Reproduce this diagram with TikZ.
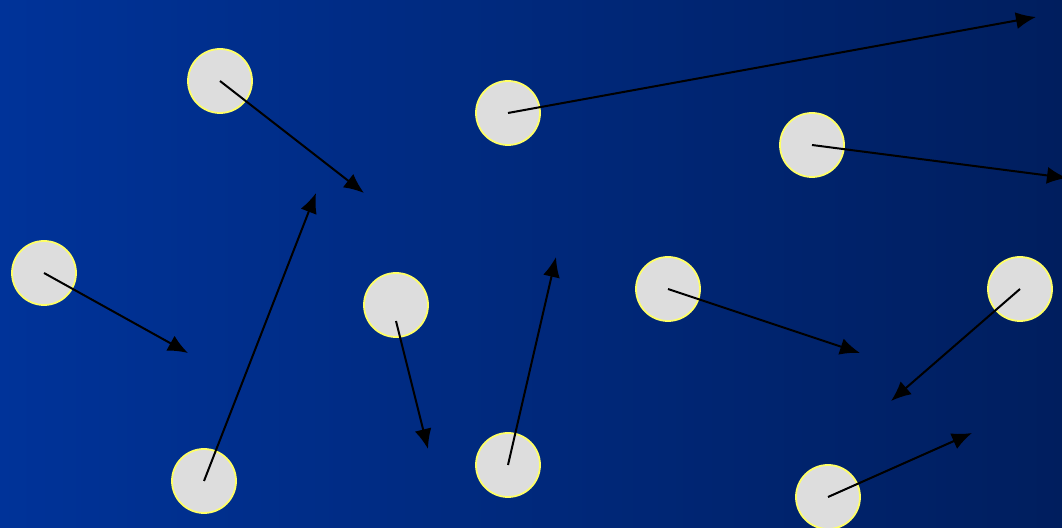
\documentclass[tikz,border=0pt]{standalone}
\usetikzlibrary{arrows.meta}
\definecolor{bgleft}{HTML}{003399}
\definecolor{bgright}{HTML}{001E5E}
\definecolor{disc}{HTML}{DDDDDD}
\definecolor{rim}{HTML}{FFFF66}
\begin{document}
\begin{tikzpicture}[x=0.5pt,y=-0.5pt,
  ball/.style={circle,fill=disc,draw=rim,line width=0.9pt,minimum size=32pt,inner sep=0pt},
  vec/.style={draw=black,line width=1pt,-{Latex[length=10pt,width=8.5pt]}}]
\useasboundingbox (0,0) rectangle (1062,528);
\shade[left color=bgleft,right color=bgright] (0,0) rectangle (1062,528);
\node[ball] (c1) at (220,81) {};
\node[ball] (c2) at (508,113) {};
\node[ball] (c3) at (812,145) {};
\node[ball] (c4) at (44,273) {};
\node[ball] (c5) at (204,481) {};
\node[ball] (c6) at (396,305) {};
\node[ball] (c7) at (508,465) {};
\node[ball] (c8) at (668,289) {};
\node[ball] (c9) at (1020,289) {};
\node[ball] (c10) at (828,497) {};
\coordinate (e1) at (364,193);
\coordinate (e2) at (1036,17);
\coordinate (e3) at (1067,178);
\coordinate (e4) at (188,353);
\coordinate (e5) at (316,193);
\coordinate (s6) at (396,321);
\coordinate (e6) at (428,449);
\coordinate (e7) at (556,257);
\coordinate (e8) at (860,353);
\coordinate (e9) at (891,401);
\coordinate (e10) at (972,433);
\draw[vec] (c1.center) -- (e1);
\draw[vec] (c2.center) -- (e2);
\draw[vec] (c3.center) -- (e3);
\draw[vec] (c4.center) -- (e4);
\draw[vec] (c5.center) -- (e5);
\draw[vec] (s6) -- (e6);
\draw[vec] (c7.center) -- (e7);
\draw[vec] (c8.center) -- (e8);
\draw[vec] (c9.center) -- (e9);
\draw[vec] (c10.center) -- (e10);
\end{tikzpicture}
\end{document}
